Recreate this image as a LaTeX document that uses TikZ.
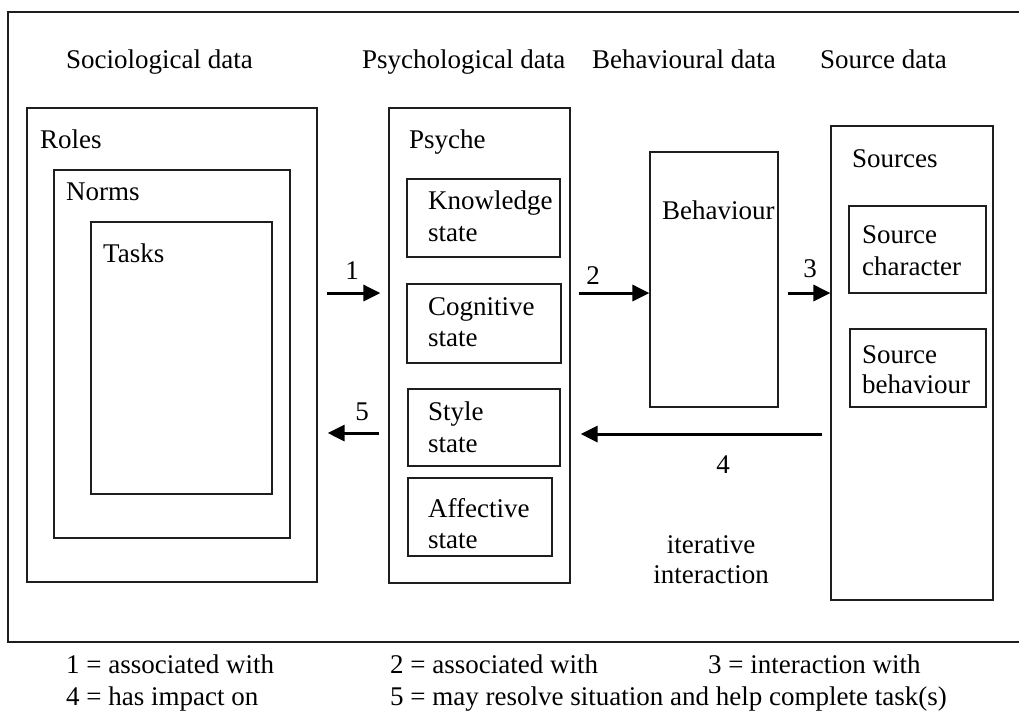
\documentclass[tikz,border=0pt]{standalone}
\usepackage{fontspec}
\setmainfont{Liberation Serif}
\usetikzlibrary{arrows.meta,fit}
\definecolor{ink}{HTML}{1E1E1E}
\begin{document}
\begin{tikzpicture}[x=1pt,y=-1pt,
  box/.style={draw=ink,line width=1.2pt,inner sep=0pt},
  txt/.style={anchor=base west,inner sep=0pt,text=black,font=\fontsize{27}{32}\selectfont},
  ctxt/.style={txt,anchor=base},
  leg/.style={txt},
  arr/.style={draw=black,line width=3pt,-{Triangle[length=17pt,width=16pt]}}]
\useasboundingbox (0,0) rectangle (1019,713);
% open frame (no right edge)
\draw[ink,line width=1.4pt] (1019,12) -- (8,12) -- (8,642) -- (1019,642);
% column headings
\node[txt] (hsoc) at (66,68) {Sociological data};
\node[txt] (hpsy) at (362,68) {Psychological data};
\node[txt] (hbeh) at (592,68) {Behavioural data};
\node[txt] (hsrc) at (820,68) {Source data};
% sociological nesting
\node[box,fit={(27,108)(317,582)}] (roles) {};
\node[box,fit={(54,170)(290,538)}] (norms) {};
\node[box,fit={(91,222)(272,494)}] (tasks) {};
\node[txt] (troles) at (40,148) {Roles};
\node[txt] (tnorms) at (66,200) {Norms};
\node[txt] (ttasks) at (103,262) {Tasks};
% psyche
\node[box,fit={(389,108)(570,583)}] (psyche) {};
\node[txt] (tpsyche) at (409,148) {Psyche};
\node[box,fit={(407,179)(560,257)}] (know) {};
\node[box,fit={(407,284)(561,363)}] (cogn) {};
\node[box,fit={(408,389)(560,466)}] (style) {};
\node[box,fit={(408,478)(552,556)}] (affe) {};
\node[txt] (tknow1) at (428,209) {Knowledge};
\node[txt] (tknow2) at (428,241) {state};
\node[txt] (tcogn1) at (428,315) {Cognitive};
\node[txt] (tcogn2) at (428,346) {state};
\node[txt] (tstyle1) at (428,420) {Style};
\node[txt] (tstyle2) at (428,452) {state};
\node[txt] (taffe1) at (428,517) {Affective};
\node[txt] (taffe2) at (428,548) {state};
% behaviour
\node[box,fit={(650,152)(778,407)}] (behav) {};
\node[txt] (tbehav) at (662,219) {Behaviour};
% sources
\node[box,fit={(831,126)(993,600)}] (sources) {};
\node[txt] (tsources) at (852,167) {Sources};
\node[box,fit={(849,206)(986,293)}] (schar) {};
\node[box,fit={(850,329)(986,407)}] (sbeh) {};
\node[txt] (tschar1) at (862,243) {Source};
\node[txt] (tschar2) at (862,275) {character};
\node[txt] (tsbeh1) at (862,363) {Source};
\node[txt] (tsbeh2) at (862,393) {behaviour};
% connectors
\draw[arr,shorten <=9pt,shorten >=8pt] (roles.east |- 0,293) -- (psyche.west |- 0,293);
\draw[arr,shorten <=8pt] (psyche.east |- 0,293) -- (behav.west |- 0,293);
\draw[arr,shorten <=9pt] (behav.east |- 0,293) -- (sources.west |- 0,293);
\draw[arr,shorten <=8pt,shorten >=10pt] (sources.west |- 0,434) -- (psyche.east |- 0,434);
\draw[arr,shorten <=9pt,shorten >=10pt] (psyche.west |- 0,433) -- (roles.east |- 0,433);
\node[ctxt] (l1) at (352,279) {1};
\node[ctxt] (l2) at (593,284) {2};
\node[ctxt] (l3) at (810,277) {3};
\node[ctxt] (l5) at (362,420) {5};
\node[ctxt] (l4) at (723,473) {4};
\node[ctxt] (it1) at (711,553) {iterative};
\node[ctxt] (it2) at (711,583) {interaction};
% key
\node[leg] (k1) at (66,673) {1 = associated with};
\node[leg] (k2) at (390,673) {2 = associated with};
\node[leg] (k3) at (708,673) {3 = interaction with};
\node[leg] (k4) at (66,705) {4 = has impact on};
\node[leg] (k5) at (390,705) {5 = may resolve situation and help complete task(s)};
\end{tikzpicture}
\end{document}
